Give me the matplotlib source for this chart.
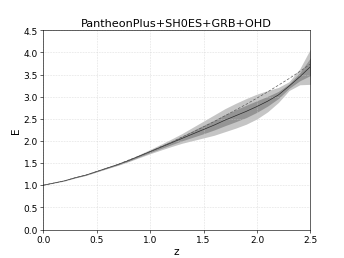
import numpy as np
import matplotlib
matplotlib.use("Agg")
import matplotlib.pyplot as plt

# redshift grid
z = [0.0, 0.1, 0.2, 0.3, 0.4, 0.5, 0.6, 0.7, 0.8, 0.9, 1.0, 1.1, 1.2,
     1.3, 1.4, 1.5, 1.6, 1.7, 1.8, 1.9, 2.0, 2.1, 2.2, 2.3, 2.4, 2.5]

# reconstructed E(z) (solid line)
E_mean = [1.00, 1.05, 1.10, 1.17, 1.23, 1.31, 1.39, 1.47, 1.56, 1.66, 1.76, 1.86, 1.96,
          2.06, 2.16, 2.26, 2.36, 2.47, 2.57, 2.67, 2.78, 2.90, 3.04, 3.24, 3.45, 3.68]

# 2 sigma half width of the band (1 sigma is about half of it)
sig2 = [0.0, 0.002, 0.003, 0.005, 0.007, 0.010, 0.014, 0.020, 0.027, 0.036, 0.048, 0.065, 0.085,
        0.11, 0.15, 0.19, 0.23, 0.26, 0.28, 0.29, 0.28, 0.24, 0.17, 0.10, 0.18, 0.40]
sig1 = [0.0, 0.001, 0.002, 0.003, 0.004, 0.005, 0.007, 0.010, 0.014, 0.018, 0.024, 0.033, 0.043,
        0.055, 0.075, 0.095, 0.11, 0.125, 0.135, 0.14, 0.13, 0.11, 0.08, 0.05, 0.09, 0.20]

# reference model (dashed line)
E_ref = [1.00, 1.05, 1.10, 1.17, 1.23, 1.31, 1.39, 1.47, 1.57, 1.66, 1.76, 1.87, 1.97,
         2.09, 2.20, 2.32, 2.44, 2.57, 2.70, 2.83, 2.97, 3.11, 3.26, 3.41, 3.57, 3.74]


def band(mean, s):
    m = np.array(mean)
    s = np.array(s)
    return m - s, m + s


fig, ax = plt.subplots(figsize=(6.4, 4.8), dpi=53.9)

lo2, hi2 = band(E_mean, sig2)
lo1, hi1 = band(E_mean, sig1)
ax.fill_between(z, lo2, hi2, color="0.5", alpha=0.45, lw=0)
ax.fill_between(z, lo1, hi1, color="0.35", alpha=0.45, lw=0)
ax.plot(z, E_mean, color="0.15", lw=0.9)
ax.plot(z, E_ref, color="0.35", lw=0.9, ls="--", dashes=(4, 2.5))

ax.set_xlim(0, 2.5)
ax.set_ylim(0, 4.5)
ax.set_xticks(np.arange(0, 2.51, 0.5))
ax.set_yticks(np.arange(0, 4.51, 0.5))
ax.grid(True, ls=":", color="0.8", lw=0.8)
ax.tick_params(labelsize=12)
ax.set_xlabel("z", fontsize=14)
ax.set_ylabel("E", fontsize=14)
ax.set_title("PantheonPlus+SH0ES+GRB+OHD", fontsize=15)

fig.savefig("out.png", dpi=53.9)
